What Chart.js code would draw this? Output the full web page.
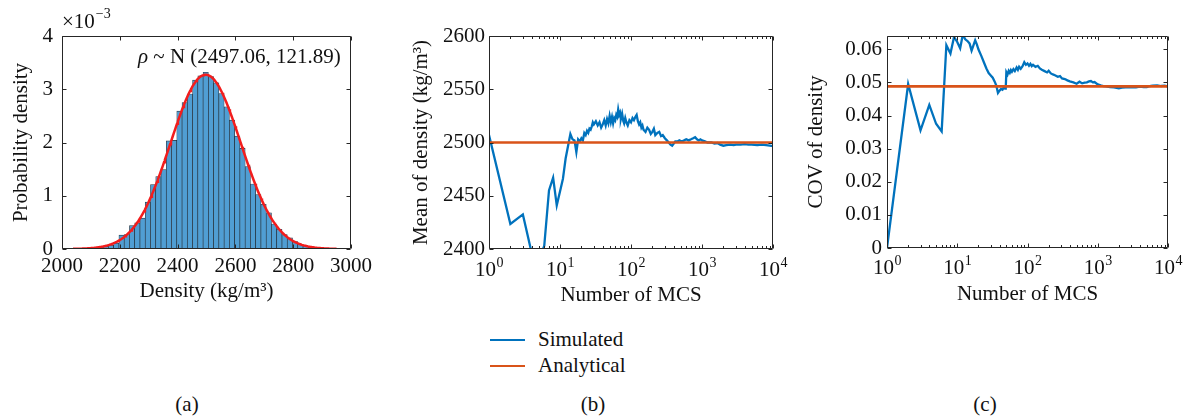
<!DOCTYPE html>
<html>
<head>
<meta charset="utf-8">
<script src="https://cdn.jsdelivr.net/npm/chart.js@4.4.1/dist/chart.umd.min.js"></script>
<style>
  html, body { margin: 0; padding: 0; background: #fff; }
  #page { position: relative; width: 1189px; height: 417px; overflow: hidden;
          font-family: "Liberation Serif", "DejaVu Serif", serif; color: #111; }
  .panel { position: absolute; top: 0; }
  .panel canvas { display: block; }
  .cap { position: absolute; font-size: 21px; line-height: 1; transform: translate(-50%, -50%); white-space: nowrap; }
  .lg { position: absolute; font-size: 21px; line-height: 1; white-space: nowrap; transform: translateY(-50%); }
  .sw { position: absolute; width: 35px; height: 2px; }
</style>
</head>
<body>
<div id="page">
  <div class="panel" style="left:0px"><canvas id="ca" width="380" height="310"></canvas></div>
  <div class="panel" style="left:400px"><canvas id="cb" width="400" height="310"></canvas></div>
  <div class="panel" style="left:800px"><canvas id="cc" width="389" height="310"></canvas></div>

  <div class="sw" style="left:490px; top:339px; background:#0072BD"></div>
  <div class="lg" style="left:538px; top:339px">Simulated</div>
  <div class="sw" style="left:490px; top:365px; background:#D95319"></div>
  <div class="lg" style="left:538px; top:365px">Analytical</div>

  <div class="cap" style="left:187px; top:404px">(a)</div>
  <div class="cap" style="left:593px; top:404px">(b)</div>
  <div class="cap" style="left:985px; top:404px">(c)</div>
</div>

<script>
// ---------- (a) histogram of sampled density, probability-density normalised ----------
const HIST_START = 2033.2;   // left edge of the first bin, kg/m3
const HIST_BIN = 18.2;       // bin width, kg/m3
const HIST_PDF_E3 = [        // bar heights, x10^-3
  0.003, 0.004, 0.008, 0.012, 0.02, 0.04, 0.05, 0.07, 0.11, 0.26,
  0.27, 0.44, 0.49, 0.58, 0.88, 1.21, 1.36, 1.49, 2.03, 2.04,
  2.59, 2.75, 2.91, 3.17, 3.25, 3.32, 3.24, 3.12, 2.92, 2.67,
  2.42, 2.12, 1.89, 1.55, 1.22, 1.02, 0.84, 0.68, 0.47, 0.37,
  0.27, 0.21, 0.14, 0.09, 0.06, 0.04, 0.025, 0.015, 0.008, 0.005
];
const FIT_MU = 2497.06;      // fitted normal, as printed on the panel
const FIT_SIGMA = 121.89;
const FIT_RANGE = [2038, 2950];
const DENSITY_TICKS = [2000, 2200, 2400, 2600, 2800, 3000];
const PDF_TICKS = [0, 1, 2, 3, 4];

// ---------- (b) running mean of density vs number of MCS ----------
const MEAN_N = [1,2,3,4,5,6,7,8,9,10,11,12,13,14,15,16,17,18,19,20,21,22,23,24,25,26,27,28,29,30,32,34,36,38,40,42,44,46,48,50,52,54,56,58,60,62,64,66,68,70,72,75,78,80,83,86,90,95,100,105,110,115,120,125,130,135,140,145,150,160,170,180,190,200,210,220,235,250,265,280,300,320,340,360,380,400,420,450,480,520,560,600,650,700,750,800,850,900,950,1000,1100,1200,1350,1500,1650,1800,2000,2200,2500,2800,3000,3500,4000,4500,5000,6000,7000,8000,9000,10000];
const MEAN_SIM = [2507,2423.5,2432.5,2396,2389,2403,2455,2467,2441,2454,2466,2485,2497,2508,2503,2502,2491,2503,2501,2504,2502,2509,2507,2511,2509,2513,2512,2515,2519,2517,2520,2516,2519,2514,2517,2521,2516,2522,2518,2525,2519,2524,2518,2523,2521,2526,2524,2531,2526,2528,2522,2527,2520,2518,2523,2519,2516,2521,2519,2523,2521,2524,2526,2520,2517,2519,2514,2516,2512,2510,2514,2512,2508,2510,2513,2507,2509,2510,2506,2507,2504,2502,2500,2498,2497,2499,2501,2501,2502,2501,2502,2503,2502,2503,2504,2505,2503,2502,2503,2502,2501,2500,2500,2499,2499.5,2498,2497,2497.5,2498,2497.5,2498,2498,2498.5,2498,2498,2497.5,2498,2497.5,2497,2496.5];
const MEAN_ANALYTICAL = 2500;
const MEAN_TICKS = [2400, 2450, 2500, 2550, 2600];

// ---------- (c) running coefficient of variation vs number of MCS ----------
const COV_N = [1,2,3,4,5,6,7,8,9,10,11,12,13,14,15,16,17,18,19,20,22,24,26,28,30,32,34,36,38,40,42,44,46,48,49,50,52,54,56,58,60,63,66,70,73,76,80,85,90,95,100,105,110,115,120,130,140,150,160,175,190,200,215,230,250,270,290,310,340,370,400,450,500,550,600,650,700,750,800,850,900,1000,1100,1200,1300,1500,1700,2000,2200,2500,3000,3500,4000,4500,5000,5500,6000,7000,8000,9000,10000];
const COV_SIM = [0,0.0495,0.0355,0.0432,0.0375,0.0352,0.0612,0.0587,0.0637,0.0622,0.0603,0.0644,0.0630,0.0625,0.0617,0.0596,0.0612,0.0627,0.0615,0.0600,0.0580,0.0560,0.0542,0.0528,0.0521,0.0514,0.0503,0.0490,0.0468,0.0475,0.0480,0.0478,0.0485,0.0481,0.0483,0.0531,0.0524,0.0535,0.0529,0.0537,0.0532,0.0540,0.0534,0.0545,0.0538,0.0547,0.0541,0.0549,0.0561,0.0553,0.0557,0.0550,0.0556,0.0549,0.0553,0.0547,0.0550,0.0542,0.0538,0.0534,0.0530,0.0535,0.0527,0.0524,0.0521,0.0517,0.0519,0.0512,0.0510,0.0506,0.0503,0.0500,0.0496,0.0502,0.0497,0.0499,0.0500,0.0503,0.0504,0.0500,0.0501,0.0494,0.0491,0.0489,0.0488,0.0486,0.0485,0.0482,0.0484,0.0485,0.0486,0.0485,0.0487,0.0486,0.0486,0.0489,0.0490,0.0491,0.0489,0.0490,0.0488];
const COV_ANALYTICAL = 0.0488;
const COV_TICKS = [0, 0.01, 0.02, 0.03, 0.04, 0.05, 0.06];
const COV_MAX = 0.064;

const MCS_TICKS = [1, 10, 100, 1000, 10000];
const MCS_EXP = ['0', '1', '2', '3', '4'];

// ---------- shared styling ----------
const SERIF = '"Liberation Serif", "DejaVu Serif", serif';
const AXIS_COLOR = '#262626';
const TEXT_COLOR = '#111';
const BLUE = '#0072BD';
const ORANGE = '#D95319';
Chart.defaults.font.family = SERIF;
Chart.defaults.color = TEXT_COLOR;

const MCS_MINOR = [];
MCS_TICKS.slice(0, -1).forEach(d => { for (let m = 2; m <= 9; m++) MCS_MINOR.push(m * d); });

// axes box with inward tick marks on all four sides
const framePlugin = {
  id: 'frame',
  afterDatasetsDraw(chart, args, o) {
    const { ctx, chartArea: a } = chart;
    const sx = chart.scales.x, sy = chart.scales.y;
    const L = Math.round(a.left) + 0.5, R = Math.round(a.right) - 0.5;
    const T = Math.round(a.top) + 0.5, B = Math.round(a.bottom) - 0.5;
    ctx.save();
    ctx.strokeStyle = AXIS_COLOR;
    ctx.lineWidth = 1;
    ctx.beginPath();
    ctx.rect(L, T, R - L, B - T);
    const xs = (o.xTicks || []).map(v => [v, o.major]).concat((o.xMinor || []).map(v => [v, o.minor]));
    xs.forEach(([v, len]) => {
      const p = Math.round(sx.getPixelForValue(v)) + 0.5;
      ctx.moveTo(p, B); ctx.lineTo(p, B - len);
      ctx.moveTo(p, T); ctx.lineTo(p, T + len);
    });
    (o.yTicks || []).forEach(v => {
      const p = Math.round(sy.getPixelForValue(v)) + 0.5;
      ctx.moveTo(L, p); ctx.lineTo(L + o.major, p);
      ctx.moveTo(R, p); ctx.lineTo(R - o.major, p);
    });
    ctx.stroke();
    ctx.restore();
  }
};

// "10^k" labels for the logarithmic MCS axis
const logLabelPlugin = {
  id: 'logLabels',
  afterDraw(chart, args, o) {
    const { ctx } = chart;
    const sx = chart.scales.x;
    ctx.save();
    ctx.fillStyle = TEXT_COLOR;
    ctx.textBaseline = 'alphabetic';
    ctx.textAlign = 'left';
    MCS_TICKS.forEach((v, i) => {
      const px = sx.getPixelForValue(v);
      ctx.font = '21px ' + SERIF;
      const wb = ctx.measureText('10').width;
      ctx.font = '14px ' + SERIF;
      const we = ctx.measureText(MCS_EXP[i]).width;
      const x0 = px - (wb + we) / 2;
      ctx.font = '21px ' + SERIF;
      ctx.fillText('10', x0, o.baseline);
      ctx.font = '14px ' + SERIF;
      ctx.fillText(MCS_EXP[i], x0 + wb + 0.5, o.baseline - 9);
    });
    ctx.restore();
  }
};

// exponent multiplier and fitted-distribution note for panel (a)
const histNotePlugin = {
  id: 'histNote',
  afterDraw(chart) {
    const { ctx, chartArea: a } = chart;
    const sx = chart.scales.x, sy = chart.scales.y;
    ctx.save();
    ctx.fillStyle = TEXT_COLOR;
    ctx.textBaseline = 'alphabetic';
    ctx.textAlign = 'left';
    ctx.font = '21px ' + SERIF;
    ctx.fillText('\u00d710', a.left, 28);
    const w = ctx.measureText('\u00d710').width;
    ctx.font = '14px ' + SERIF;
    ctx.fillText('\u22123', a.left + w + 1, 18);

    const x0 = sx.getPixelForValue(2263), y0 = sy.getPixelForValue(3.49);
    ctx.font = 'italic 21px ' + SERIF;
    ctx.fillText('\u03c1', x0, y0);
    const wr = ctx.measureText('\u03c1').width;
    ctx.font = '21px ' + SERIF;
    ctx.fillText(' ~ N (' + FIT_MU.toFixed(2) + ', ' + FIT_SIGMA.toFixed(2) + ')', x0 + wr, y0);
    ctx.restore();
  }
};

function fixedTicks(values) {
  return scale => { scale.ticks = values.map(v => ({ value: v })); };
}
const tickFont = { size: 21, family: SERIF, lineHeight: 1.2 };
const titleFont = { size: 21, family: SERIF, lineHeight: 1 };

// ---------- chart (a) ----------
const histBars = HIST_PDF_E3.map((h, i) => ({ x: HIST_START + (i + 0.5) * HIST_BIN, y: h }));
const fitCurve = [];
for (let x = FIT_RANGE[0]; x <= FIT_RANGE[1]; x += 3) {
  const z = (x - FIT_MU) / FIT_SIGMA;
  fitCurve.push({ x, y: 1000 * Math.exp(-0.5 * z * z) / (FIT_SIGMA * Math.sqrt(2 * Math.PI)) });
}

new Chart(document.getElementById('ca'), {
  type: 'bar',
  data: {
    datasets: [
      { type: 'line', data: fitCurve, borderColor: '#f21d1d', borderWidth: 2.5, pointRadius: 0, tension: 0, order: 0 },
      { type: 'bar', data: histBars, backgroundColor: 'rgb(80,158,211)', borderColor: 'rgba(20,30,40,0.9)',
        borderWidth: 0.65, borderSkipped: false, barPercentage: 1, categoryPercentage: 1, order: 1 }
    ]
  },
  options: {
    responsive: false, animation: false,
    layout: { padding: { left: 0, top: 36, right: 29, bottom: 0 } },
    plugins: { legend: { display: false }, tooltip: { enabled: false },
      frame: { xTicks: DENSITY_TICKS, yTicks: PDF_TICKS, major: 4, minor: 2.5 } },
    scales: {
      x: { type: 'linear', min: 2000, max: 3000, offset: false,
        grid: { display: false, drawTicks: false }, border: { display: false },
        afterBuildTicks: fixedTicks(DENSITY_TICKS),
        afterFit: s => { s.height = 61; },
        ticks: { font: tickFont, padding: 5, maxRotation: 0, autoSkip: false, callback: v => String(v) },
        title: { display: true, text: 'Density (kg/m\u00b3)', font: titleFont, padding: { top: 0, bottom: 8.5 } } },
      y: { min: 0, max: 4,
        grid: { display: false, drawTicks: false }, border: { display: false },
        afterBuildTicks: fixedTicks(PDF_TICKS),
        afterFit: s => { s.width = 62; },
        ticks: { font: tickFont, padding: 9, callback: v => String(v) },
        title: { display: true, text: 'Probability density', font: titleFont, padding: { top: 10.5, bottom: 0 } } }
    }
  },
  plugins: [framePlugin, histNotePlugin]
});

// ---------- charts (b) and (c) ----------
function mcsChart(id, opts) {
  return new Chart(document.getElementById(id), {
    type: 'line',
    data: {
      datasets: [
        { data: [MCS_TICKS[0], MCS_TICKS[MCS_TICKS.length - 1]].map(x => ({ x, y: opts.analytical })),
          borderColor: ORANGE, borderWidth: 2.6, pointRadius: 0, order: 0 },
        { data: opts.n.map((x, i) => ({ x, y: opts.sim[i] })),
          borderColor: BLUE, borderWidth: 2.3, pointRadius: 0, tension: 0, order: 1 }
      ]
    },
    options: {
      responsive: false, animation: false,
      layout: { padding: { left: 0, top: 36, right: opts.padRight, bottom: 0 } },
      plugins: { legend: { display: false }, tooltip: { enabled: false },
        frame: { xTicks: MCS_TICKS, xMinor: MCS_MINOR, yTicks: opts.yTicks, major: 4, minor: 2.5 },
        logLabels: { baseline: opts.labelBaseline } },
      scales: {
        x: { type: 'logarithmic', min: 1, max: 10000,
          grid: { display: false, drawTicks: false }, border: { display: false },
          afterFit: s => { s.height = opts.xHeight; },
          ticks: { display: false },
          title: { display: true, text: 'Number of MCS', font: titleFont, padding: { top: 0, bottom: opts.xTitlePad } } },
        y: { min: opts.yMin, max: opts.yMax,
          grid: { display: false, drawTicks: false }, border: { display: false },
          afterBuildTicks: fixedTicks(opts.yTicks),
          afterFit: s => { s.width = opts.yWidth; },
          ticks: { font: tickFont, padding: opts.yPad, callback: opts.fmt },
          title: { display: true, text: opts.yTitle, font: titleFont, padding: { top: opts.yTitlePad, bottom: 0 } } }
      }
    },
    plugins: [framePlugin, logLabelPlugin]
  });
}

mcsChart('cb', {
  n: MEAN_N, sim: MEAN_SIM, analytical: MEAN_ANALYTICAL,
  yMin: 2400, yMax: 2600, yTicks: MEAN_TICKS, fmt: v => String(v),
  yTitle: 'Mean of density (kg/m\u00b3)', yTitlePad: 10.5, yWidth: 89, yPad: 4,
  padRight: 27, xHeight: 61, xTitlePad: 4.5, labelBaseline: 276
});

mcsChart('cc', {
  n: COV_N, sim: COV_SIM, analytical: COV_ANALYTICAL,
  yMin: 0, yMax: COV_MAX, yTicks: COV_TICKS, fmt: v => (v === 0 ? '0' : v.toFixed(2)),
  yTitle: 'COV of density', yTitlePad: 5.5, yWidth: 87, yPad: 5,
  padRight: 21, xHeight: 62, xTitlePad: 5.5, labelBaseline: 274
});
</script>
</body>
</html>
